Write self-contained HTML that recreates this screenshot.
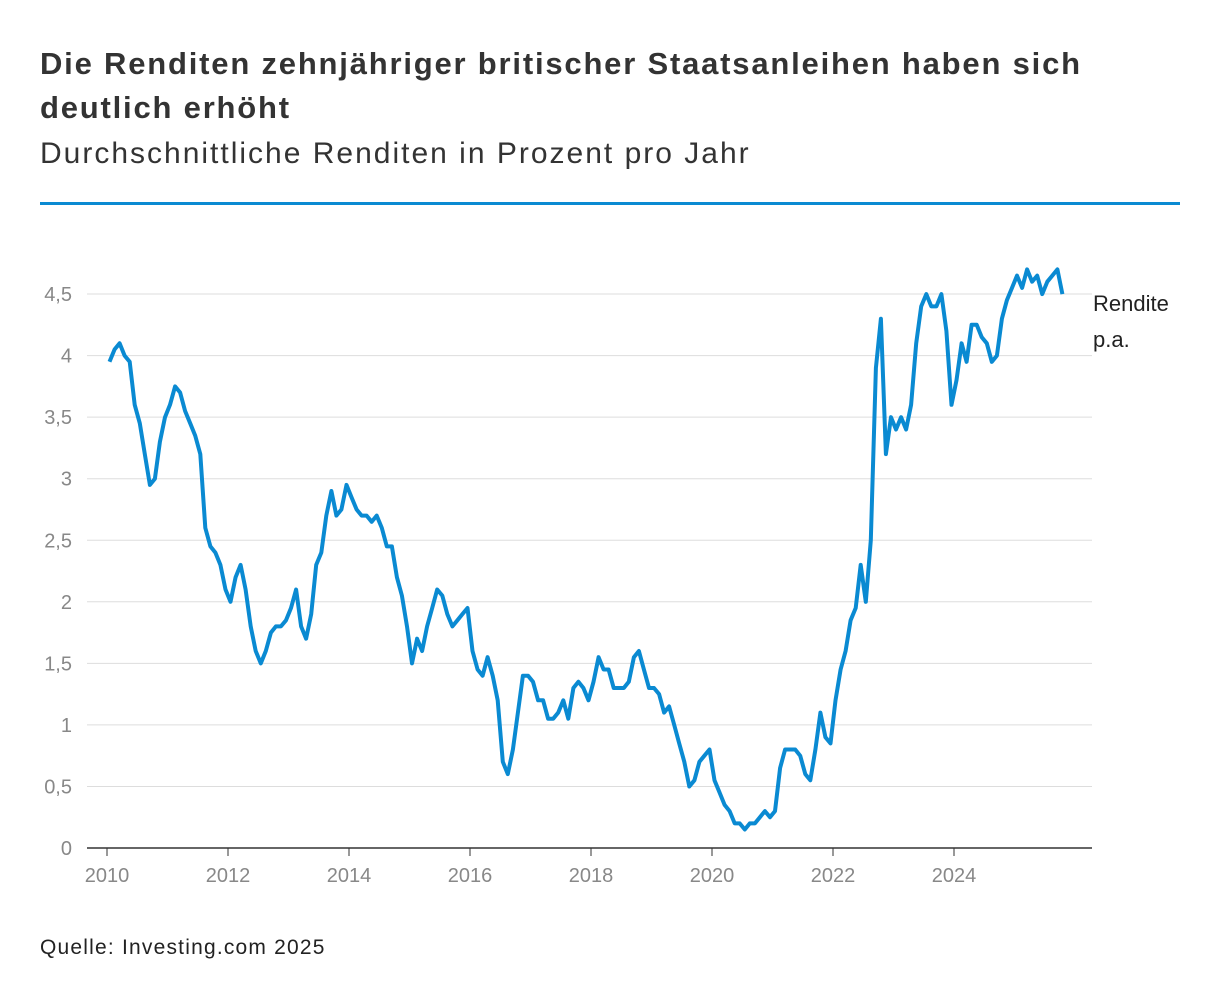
<!DOCTYPE html>
<html><head><meta charset="utf-8"><style>
body{margin:0;background:#fff;width:1220px;height:1006px;overflow:hidden;font-family:"Liberation Sans",sans-serif;}
#t{position:absolute;left:40px;top:42px;font-size:31px;font-weight:bold;color:#333;line-height:44px;width:1090px;letter-spacing:1.8px;}
#s{position:absolute;left:40px;top:137px;font-size:30px;color:#333;letter-spacing:2px;}
#r{position:absolute;left:40px;top:202px;width:1140px;height:3px;background:#0a8ad2;}
#src{position:absolute;left:40px;top:936px;font-size:21px;color:#222;letter-spacing:1.2px;}
svg{position:absolute;left:0;top:0;}
</style></head><body>
<div id="t">Die Renditen zehnjähriger britischer Staatsanleihen haben sich deutlich erhöht</div>
<div id="s">Durchschnittliche Renditen in Prozent pro Jahr</div>
<div id="r"></div>
<svg id="c" width="1220" height="1006"></svg>
<div id="src">Quelle: Investing.com 2025</div>
<script>
const yTicks=[0,0.5,1,1.5,2,2.5,3,3.5,4,4.5];
const yTickLabels=["0","0,5","1","1,5","2","2,5","3","3,5","4","4,5"];
const xTicks=[2010,2012,2014,2016,2018,2020,2022,2024];
const startYear=2010;
const yields=[
3.95,4.05,4.1,4.0,3.95,3.6,3.45,3.2,2.95,3.0,3.3,3.5,
3.6,3.75,3.7,3.55,3.45,3.35,3.2,2.6,2.45,2.4,2.3,2.1,
2.0,2.2,2.3,2.1,1.8,1.6,1.5,1.6,1.75,1.8,1.8,1.85,
1.95,2.1,1.8,1.7,1.9,2.3,2.4,2.7,2.9,2.7,2.75,2.95,
2.85,2.75,2.7,2.7,2.65,2.7,2.6,2.45,2.45,2.2,2.05,1.8,
1.5,1.7,1.6,1.8,1.95,2.1,2.05,1.9,1.8,1.85,1.9,1.95,
1.6,1.45,1.4,1.55,1.4,1.2,0.7,0.6,0.8,1.1,1.4,1.4,
1.35,1.2,1.2,1.05,1.05,1.1,1.2,1.05,1.3,1.35,1.3,1.2,
1.35,1.55,1.45,1.45,1.3,1.3,1.3,1.35,1.55,1.6,1.45,1.3,
1.3,1.25,1.1,1.15,1.0,0.85,0.7,0.5,0.55,0.7,0.75,0.8,
0.55,0.45,0.35,0.3,0.2,0.2,0.15,0.2,0.2,0.25,0.3,0.25,
0.3,0.65,0.8,0.8,0.8,0.75,0.6,0.55,0.8,1.1,0.9,0.85,
1.2,1.45,1.6,1.85,1.95,2.3,2.0,2.5,3.9,4.3,3.2,3.5,
3.4,3.5,3.4,3.6,4.1,4.4,4.5,4.4,4.4,4.5,4.2,3.6,
3.8,4.1,3.95,4.25,4.25,4.15,4.1,3.95,4.0,4.3,4.45,4.55,
4.65,4.55,4.7,4.6,4.65,4.5,4.6,4.65,4.7,4.5];
const NS="http://www.w3.org/2000/svg";
const svg=document.getElementById('c');
const xS=v=>107+(v-2010)*60.5;
const yS=v=>848-v*123.1;
function mk(tag,attrs){const e=document.createElementNS(NS,tag);for(const k in attrs)e.setAttribute(k,attrs[k]);svg.appendChild(e);return e;}
yTicks.forEach((v,i)=>{
 if(v>0){const g=mk('line',{x1:87,x2:1092,y1:yS(v),y2:yS(v),stroke:'#ddd','stroke-width':1});
 
 }
 const t=mk('text',{x:72,y:yS(v)+7,'text-anchor':'end','font-size':20,fill:'#888','font-family':'Liberation Sans, sans-serif'});
 t.textContent=yTickLabels[i];
 
 
});
const ax=mk('line',{x1:87,x2:1092,y1:848,y2:848,stroke:'#333','stroke-width':1.5});


xTicks.forEach(v=>{
 const tk=mk('line',{x1:xS(v),x2:xS(v),y1:848,y2:856,stroke:'#333','stroke-width':1});
 
 
 const t=mk('text',{x:xS(v),y:882,'text-anchor':'middle','font-size':20,fill:'#888','font-family':'Liberation Sans, sans-serif'});
 t.textContent=v;
 
 
});
const pts=yields.map((v,i)=>xS(startYear+(i+0.5)/12).toFixed(1)+','+yS(v).toFixed(1)).join(' ');
const ln=mk('polyline',{points:pts,fill:'none',stroke:'#0a8ad2','stroke-width':4,'stroke-linejoin':'round'});


['Rendite','p.a.'].forEach((s,i)=>{
 const t=mk('text',{x:1093,y:311+i*36,'font-size':22,fill:'#222','font-family':'Liberation Sans, sans-serif'});
 t.textContent=s;
 
 
});
</script>
</body></html>
